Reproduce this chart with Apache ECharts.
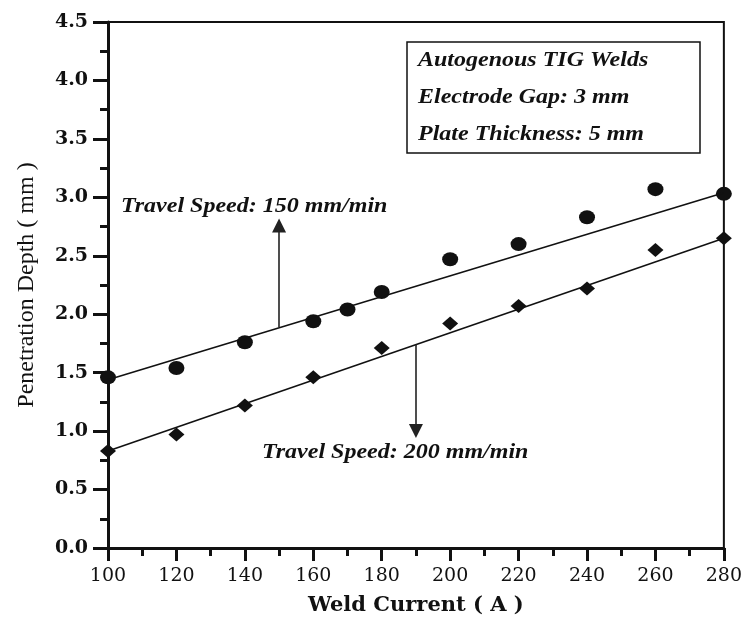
<!DOCTYPE html>
<html>
<head>
<meta charset="utf-8">
<script src="https://cdn.jsdelivr.net/npm/echarts@6/dist/echarts.min.js"></script>
<style>
  html, body { margin: 0; padding: 0; background: #fff; }
  #chart { width: 745px; height: 621px; }
</style>
</head>
<body>
<div id="chart"></div>
<script>
// weld current (A)
const current150 = [100, 120, 140, 160, 170, 180, 200, 220, 240, 260, 280]
const depth150 = [1.46, 1.54, 1.76, 1.94, 2.04, 2.19, 2.47, 2.60, 2.83, 3.07, 3.03]
const current200 = [100, 120, 140, 160, 180, 200, 220, 240, 260, 280]
const depth200 = [0.83, 0.97, 1.22, 1.46, 1.71, 1.92, 2.07, 2.22, 2.55, 2.65]
// fitted lines (end points)
const fit150 = [[100, 1.44], [280, 3.04]]
const fit200 = [[100, 0.83], [280, 2.65]]
// arrows: [x, from, to]
const arrow150 = [150, 1.89, 2.76]
const arrow200 = [190, 1.74, 1.0]
const boxLines = ['Autogenous TIG Welds', 'Electrode Gap: 3 mm', 'Plate Thickness: 5 mm']

const serif = 'Liberation Serif'
const wideSerif = 'DejaVu Serif'
const noteFont = 'italic bold 20px "Liberation Serif"'
const chart = echarts.init(document.getElementById('chart'))

const pair = (xs, ys) => xs.map((x, i) => [x, ys[i]])

function arrowLine(a) {
  return {
    silent: true,
    symbol: ['none', 'triangle'],
    symbolSize: [14, 14],
    label: { show: false },
    lineStyle: { color: '#222', width: 1.6, type: 'solid' },
    data: [[{ coord: [a[0], a[1]] }, { coord: [a[0], a[2]] }]]
  }
}

function note(text, x, y) {
  return {
    type: 'text', x: x, y: y, z: 11, scaleX: 1.2,
    style: { text: text, fill: '#111', font: noteFont, verticalAlign: 'middle' }
  }
}

const option = {
  backgroundColor: '#fff',
  animation: false,
  grid: {
    left: 108, right: 20, top: 22, bottom: 73,
    show: true, borderColor: '#111', borderWidth: 2
  },
  xAxis: {
    type: 'value', min: 100, max: 280, interval: 20,
    name: 'Weld Current ( A )', nameLocation: 'middle', nameGap: 47,
    nameTextStyle: { fontFamily: wideSerif, fontSize: 21, color: '#111', fontWeight: 'bold' },
    axisLine: { lineStyle: { color: '#111', width: 3 } },
    axisTick: { length: 13, lineStyle: { color: '#111', width: 3 } },
    minorTick: { show: true, splitNumber: 2, length: 8, lineStyle: { color: '#111', width: 3 } },
    axisLabel: { margin: 19, fontFamily: wideSerif, fontSize: 19, color: '#111' },
    splitLine: { show: false }
  },
  yAxis: {
    type: 'value', min: 0, max: 4.5, interval: 0.5,
    name: 'Penetration Depth ( mm )', nameLocation: 'middle', nameGap: 69,
    nameTextStyle: { fontFamily: serif, fontSize: 24, color: '#111' },
    axisLine: { lineStyle: { color: '#111', width: 3 } },
    axisTick: { length: 15, lineStyle: { color: '#111', width: 3 } },
    minorTick: { show: true, splitNumber: 2, length: 8, lineStyle: { color: '#111', width: 3 } },
    axisLabel: {
      margin: 20, fontFamily: wideSerif, fontSize: 19, color: '#111', fontWeight: 'bold',
      formatter: v => v.toFixed(1)
    },
    splitLine: { show: false }
  },
  series: [
    {
      type: 'line', data: fit150, symbol: 'none', silent: true,
      lineStyle: { color: '#111', width: 1.6 },
      markLine: arrowLine(arrow150)
    },
    {
      type: 'line', data: fit200, symbol: 'none', silent: true,
      lineStyle: { color: '#111', width: 1.6 },
      markLine: arrowLine(arrow200)
    },
    {
      type: 'scatter', data: pair(current150, depth150),
      symbol: 'circle', symbolSize: [16, 14], itemStyle: { color: '#111', opacity: 1 }
    },
    {
      type: 'scatter', data: pair(current200, depth200),
      symbol: 'diamond', symbolSize: [16, 14], itemStyle: { color: '#111', opacity: 1 }
    }
  ],
  graphic: [
    {
      type: 'rect', shape: { x: 407, y: 42, width: 293, height: 111 },
      style: { fill: '#fff', stroke: '#111', lineWidth: 1.5 }, z: 10
    },
    ...boxLines.map((t, i) => note(t, 418, 61 + i * 37)),
    note('Travel Speed: 150 mm/min', 121, 207),
    note('Travel Speed: 200 mm/min', 262, 453)
  ]
}

chart.setOption(option)
</script>
</body>
</html>
